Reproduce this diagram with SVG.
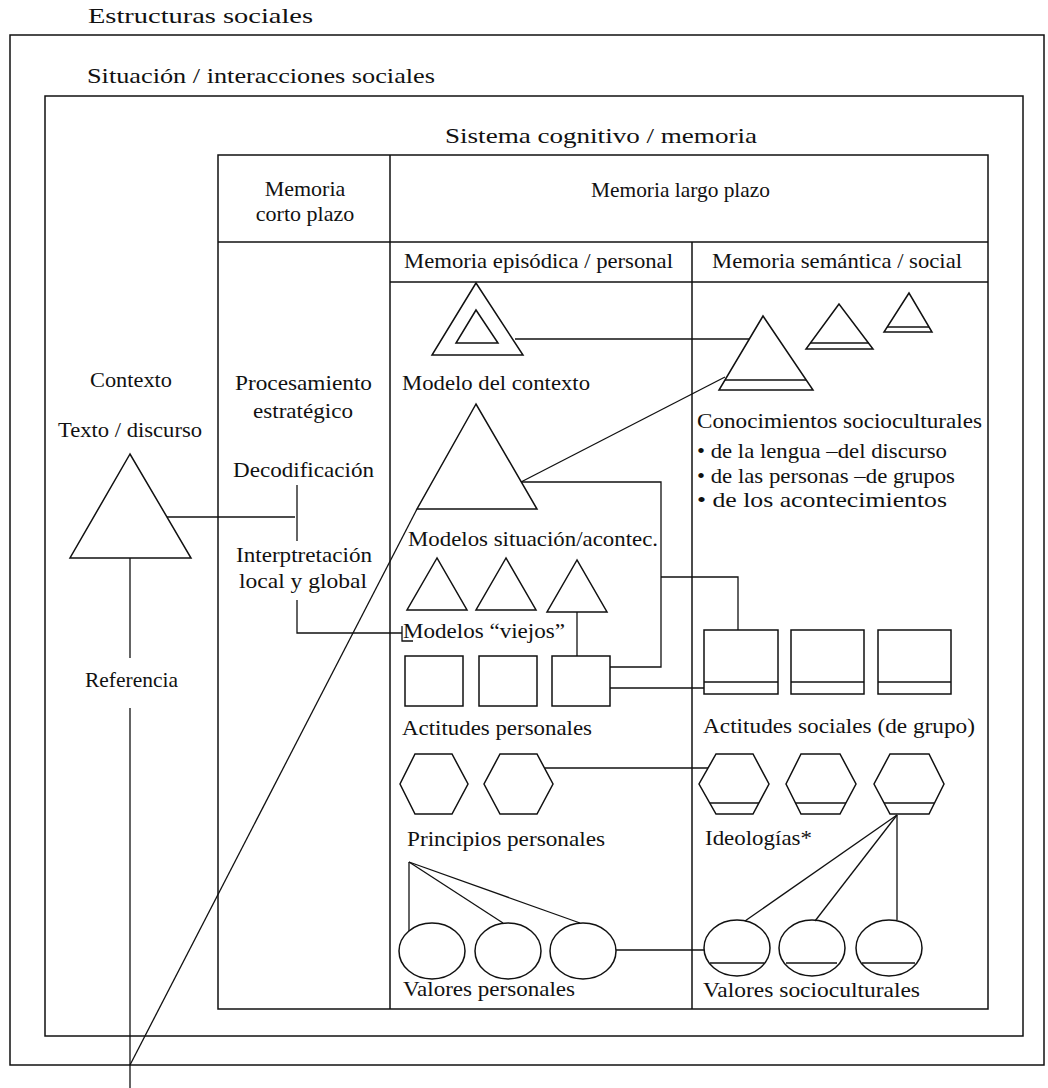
<svg xmlns="http://www.w3.org/2000/svg" width="1048" height="1088" viewBox="0 0 1048 1088">
<style>
.t{font-family:"Liberation Serif","Times New Roman",serif;font-size:22px;fill:#111}
.m{text-anchor:middle}
.f{fill:none;stroke:#111;stroke-width:1.5}
.s{fill:#fff;stroke:#111;stroke-width:1.5}
.c{fill:none;stroke:#111;stroke-width:1.3}
</style>
<rect width="1048" height="1088" fill="#fff"/>
<g id="frames">
<rect class="f" x="10" y="35" width="1034" height="1030"/>
<rect class="f" x="45" y="96" width="978" height="940"/>
<rect class="f" x="218" y="155" width="770" height="854"/>
<line class="f" x1="390" y1="155" x2="390" y2="1009"/>
<line class="f" x1="218" y1="242" x2="988" y2="242"/>
<line class="f" x1="390" y1="282" x2="988" y2="282"/>
<line class="f" x1="692" y1="242" x2="692" y2="1009"/>
</g>
<g id="labels">
<text class="t" x="88" y="23" textLength="225" lengthAdjust="spacingAndGlyphs">Estructuras sociales</text>
<text class="t" x="87" y="83" textLength="348" lengthAdjust="spacingAndGlyphs">Situación / interacciones sociales</text>
<text class="t" x="445" y="143" textLength="312" lengthAdjust="spacingAndGlyphs">Sistema cognitivo / memoria</text>
<text class="t m" x="305" y="196">Memoria</text>
<text class="t m" x="305" y="221">corto plazo</text>
<text class="t" x="591" y="197" textLength="179" lengthAdjust="spacingAndGlyphs">Memoria largo plazo</text>
<text class="t" x="404" y="268" textLength="269" lengthAdjust="spacingAndGlyphs">Memoria episódica / personal</text>
<text class="t" x="712" y="268" textLength="250" lengthAdjust="spacingAndGlyphs">Memoria semántica / social</text>
</g>
<g id="contexto">
<text class="t" x="90" y="387" textLength="82" lengthAdjust="spacingAndGlyphs">Contexto</text>
<text class="t" x="58" y="437" textLength="144" lengthAdjust="spacingAndGlyphs">Texto / discurso</text>
<polygon class="s" points="130,454 70,558 191,558"/>
<text class="t" x="85" y="687" textLength="93" lengthAdjust="spacingAndGlyphs">Referencia</text>
</g>
<g id="procesamiento">
<text class="t" x="235" y="390" textLength="137" lengthAdjust="spacingAndGlyphs">Procesamiento</text>
<text class="t" x="253" y="418" textLength="100" lengthAdjust="spacingAndGlyphs">estratégico</text>
<text class="t" x="233" y="477" textLength="141" lengthAdjust="spacingAndGlyphs">Decodificación</text>
<text class="t" x="236" y="562" textLength="136" lengthAdjust="spacingAndGlyphs">Interptretación</text>
<text class="t" x="239" y="588" textLength="128" lengthAdjust="spacingAndGlyphs">local y global</text>
</g>
<g id="connectors">
<line class="c" x1="167" y1="517" x2="295" y2="517"/>
<line class="c" x1="297" y1="485" x2="297" y2="541"/>
<path class="c" d="M297,600 V633 H402"/>
<path class="c" d="M402,626 V641 H413"/>
<line class="c" x1="130" y1="558" x2="130" y2="658"/>
<line class="c" x1="130" y1="708" x2="130" y2="1088"/>
<line class="c" x1="130" y1="1065" x2="417" y2="509"/>
<line class="c" x1="515" y1="339" x2="749" y2="339"/>
<line class="c" x1="521" y1="482" x2="725" y2="377"/>
<path class="c" d="M521,482 H661 V667 H610"/>
<path class="c" d="M661,577 H738 V630"/>
<line class="c" x1="610" y1="688" x2="704" y2="688"/>
<line class="c" x1="577" y1="612" x2="577" y2="656"/>
<line class="c" x1="545" y1="768" x2="708" y2="768"/>
<line class="c" x1="409" y1="862" x2="409" y2="931"/>
<line class="c" x1="409" y1="862" x2="503" y2="923"/>
<line class="c" x1="409" y1="862" x2="580" y2="923"/>
<line class="c" x1="616" y1="950" x2="704" y2="950"/>
<line class="c" x1="897" y1="815" x2="745" y2="921"/>
<line class="c" x1="897" y1="815" x2="815" y2="921"/>
<line class="c" x1="897" y1="815" x2="897" y2="920"/>
</g>
<g id="modelo-contexto">
<polygon class="f" points="476,283 432,355 523,355"/>
<polygon class="f" points="476,310 456,343 498,343"/>
<text class="t" x="402" y="390" textLength="188" lengthAdjust="spacingAndGlyphs">Modelo del contexto</text>
<polygon class="f" points="476,404 417,509 537,509"/>
</g>
<g id="conocimientos">
<polygon class="f" points="763,316 719,390 813,390"/>
<line class="f" x1="725" y1="380" x2="806" y2="380"/>
<polygon class="f" points="839,304 806,349 873,349"/>
<line class="f" x1="810" y1="343" x2="869" y2="343"/>
<polygon class="f" points="909,293 884,332 932,332"/>
<line class="f" x1="887" y1="327" x2="929" y2="327"/>
<text class="t" x="697" y="428" textLength="285" lengthAdjust="spacingAndGlyphs">Conocimientos socioculturales</text>
<text class="t" x="697" y="458" textLength="250" lengthAdjust="spacingAndGlyphs">• de la lengua –del discurso</text>
<text class="t" x="697" y="483" textLength="258" lengthAdjust="spacingAndGlyphs">• de las personas –de grupos</text>
<text class="t" x="697" y="507" textLength="250" lengthAdjust="spacingAndGlyphs">• de los acontecimientos</text>
</g>
<g id="modelos-situacion">
<text class="t" x="408" y="546" textLength="250" lengthAdjust="spacingAndGlyphs">Modelos situación/acontec.</text>
<polygon class="f" points="437,558 407,610 467,610"/>
<polygon class="f" points="506,558 476,610 536,610"/>
<polygon class="f" points="577,560 547,612 607,612"/>
<text class="t" x="403" y="638" textLength="162" lengthAdjust="spacingAndGlyphs">Modelos “viejos”</text>
</g>
<g id="actitudes-personales">
<rect class="f" x="405" y="656" width="58" height="50"/>
<rect class="f" x="479" y="656" width="58" height="50"/>
<rect class="f" x="552" y="656" width="58" height="50"/>
<text class="t" x="402" y="735" textLength="190" lengthAdjust="spacingAndGlyphs">Actitudes personales</text>
</g>
<g id="actitudes-sociales">
<rect class="f" x="704" y="630" width="74" height="64"/>
<line class="f" x1="704" y1="682" x2="778" y2="682"/>
<rect class="f" x="791" y="630" width="73" height="64"/>
<line class="f" x1="791" y1="682" x2="864" y2="682"/>
<rect class="f" x="878" y="630" width="73" height="64"/>
<line class="f" x1="878" y1="682" x2="951" y2="682"/>
<text class="t" x="703" y="733" textLength="272" lengthAdjust="spacingAndGlyphs">Actitudes sociales (de grupo)</text>
</g>
<g id="principios-personales">
<polygon class="f" points="415,754 452,754 468,784 452,814 415,814 400,784"/>
<polygon class="f" points="500,754 537,754 553,784 537,814 500,814 484,784"/>
<text class="t" x="407" y="846" textLength="198" lengthAdjust="spacingAndGlyphs">Principios personales</text>
</g>
<g id="ideologias">
<polygon class="f" points="716,754 753,754 769,784 753,814 716,814 699,784"/>
<line class="f" x1="710" y1="803" x2="759" y2="803"/>
<polygon class="f" points="801,754 840,754 856,784 840,814 801,814 786,784"/>
<line class="f" x1="795" y1="803" x2="846" y2="803"/>
<polygon class="f" points="890,754 929,754 944,784 929,814 890,814 874,784"/>
<line class="f" x1="884" y1="803" x2="934" y2="803"/>
<text class="t" x="705" y="845" textLength="107" lengthAdjust="spacingAndGlyphs">Ideologías*</text>
</g>
<g id="valores-personales">
<ellipse class="f" cx="432" cy="951" rx="33" ry="28"/>
<ellipse class="f" cx="508" cy="951" rx="33" ry="28"/>
<ellipse class="f" cx="583" cy="951" rx="33" ry="28"/>
<text class="t" x="403" y="996" textLength="172" lengthAdjust="spacingAndGlyphs">Valores personales</text>
</g>
<g id="valores-socioculturales">
<ellipse class="f" cx="737" cy="948" rx="33" ry="28"/>
<line class="f" x1="710" y1="963" x2="764" y2="963"/>
<ellipse class="f" cx="812" cy="948" rx="33" ry="28"/>
<line class="f" x1="786" y1="963" x2="837" y2="963"/>
<ellipse class="f" cx="889" cy="948" rx="33" ry="28"/>
<line class="f" x1="862" y1="963" x2="915" y2="963"/>
<text class="t" x="703" y="997" textLength="217" lengthAdjust="spacingAndGlyphs">Valores socioculturales</text>
</g>
</svg>
